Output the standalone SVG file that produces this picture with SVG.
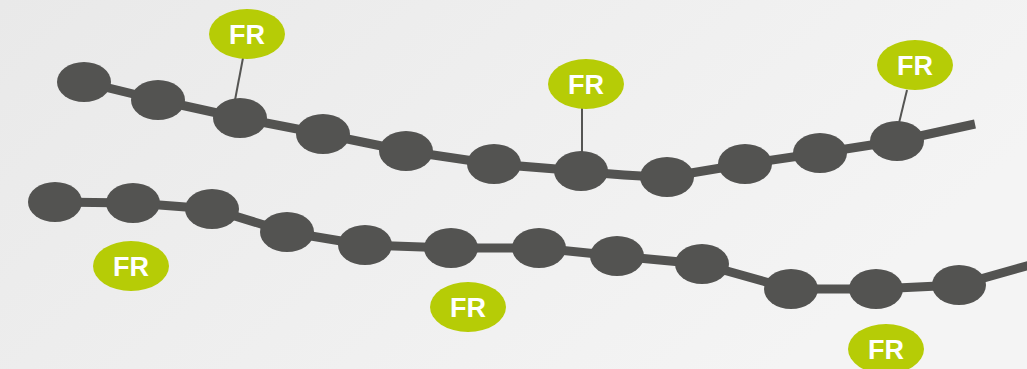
<svg xmlns="http://www.w3.org/2000/svg" width="1027" height="369" viewBox="0 0 1027 369">
<defs>
<linearGradient id="bg" x1="0" y1="0" x2="1" y2="0.4">
<stop offset="0" stop-color="#e9e9e9"/>
<stop offset="1" stop-color="#f4f4f4"/>
</linearGradient>
</defs>
<style>
.chain{fill:none;stroke:#535351;stroke-width:9;stroke-linejoin:round}
.tether{stroke:#555553;stroke-width:2}
.bead{fill:#535351}
.fr{fill:#b6cc06}
.lbl{fill:#ffffff;font-family:"Liberation Sans",Arial,sans-serif;font-weight:bold;font-size:27px;text-anchor:middle}
</style>
<rect width="1027" height="369" fill="url(#bg)"/>
<g id="connectors">
<path class="chain" d="M84,82 L158,100 L240,118 L323,134 L406,151 L494,164 L581,171 Q624,176 667,177 L745,164 L820,153 L897,141 L975,124"/>
<path class="chain" d="M55,202 L133,203 L212,209 L287,232 L365,245 L451,248 L539,248 L617,256 L702,264 L791,289 L876,289 L959,285 L1030,265"/>
<line class="tether" x1="243" y1="58" x2="235" y2="100"/>
<line class="tether" x1="582" y1="108" x2="582" y2="152"/>
<line class="tether" x1="907" y1="90" x2="899" y2="123"/>
</g>
<g id="top-chain">
<ellipse id="t1" class="bead" cx="84" cy="82" rx="27" ry="20"/>
<ellipse id="t2" class="bead" cx="158" cy="100" rx="27" ry="20"/>
<ellipse id="t3" class="bead" cx="240" cy="118" rx="27" ry="20"/>
<ellipse id="t4" class="bead" cx="323" cy="134" rx="27" ry="20"/>
<ellipse id="t5" class="bead" cx="406" cy="151" rx="27" ry="20"/>
<ellipse id="t6" class="bead" cx="494" cy="164" rx="27" ry="20"/>
<ellipse id="t7" class="bead" cx="581" cy="171" rx="27" ry="20"/>
<ellipse id="t8" class="bead" cx="667" cy="177" rx="27" ry="20"/>
<ellipse id="t9" class="bead" cx="745" cy="164" rx="27" ry="20"/>
<ellipse id="t10" class="bead" cx="820" cy="153" rx="27" ry="20"/>
<ellipse id="t11" class="bead" cx="897" cy="141" rx="27" ry="20"/>
</g>
<g id="bottom-chain">
<ellipse id="b1" class="bead" cx="55" cy="202" rx="27" ry="20"/>
<ellipse id="b2" class="bead" cx="133" cy="203" rx="27" ry="20"/>
<ellipse id="b3" class="bead" cx="212" cy="209" rx="27" ry="20"/>
<ellipse id="b4" class="bead" cx="287" cy="232" rx="27" ry="20"/>
<ellipse id="b5" class="bead" cx="365" cy="245" rx="27" ry="20"/>
<ellipse id="b6" class="bead" cx="451" cy="248" rx="27" ry="20"/>
<ellipse id="b7" class="bead" cx="539" cy="248" rx="27" ry="20"/>
<ellipse id="b8" class="bead" cx="617" cy="256" rx="27" ry="20"/>
<ellipse id="b9" class="bead" cx="702" cy="264" rx="27" ry="20"/>
<ellipse id="b10" class="bead" cx="791" cy="289" rx="27" ry="20"/>
<ellipse id="b11" class="bead" cx="876" cy="289" rx="27" ry="20"/>
<ellipse id="b12" class="bead" cx="959" cy="285" rx="27" ry="20"/>
</g>
<g id="fr1"><ellipse class="fr" cx="247" cy="34" rx="38" ry="25"/><text class="lbl" x="247" y="44">FR</text></g>
<g id="fr2"><ellipse class="fr" cx="586" cy="84" rx="38" ry="25"/><text class="lbl" x="586" y="94">FR</text></g>
<g id="fr3"><ellipse class="fr" cx="915" cy="65" rx="38" ry="25"/><text class="lbl" x="915" y="75">FR</text></g>
<g id="fr4"><ellipse class="fr" cx="131" cy="266" rx="38" ry="25"/><text class="lbl" x="131" y="276">FR</text></g>
<g id="fr5"><ellipse class="fr" cx="468" cy="307" rx="38" ry="25"/><text class="lbl" x="468" y="317">FR</text></g>
<g id="fr6"><ellipse class="fr" cx="886" cy="349" rx="38" ry="25"/><text class="lbl" x="886" y="359">FR</text></g>
</svg>
